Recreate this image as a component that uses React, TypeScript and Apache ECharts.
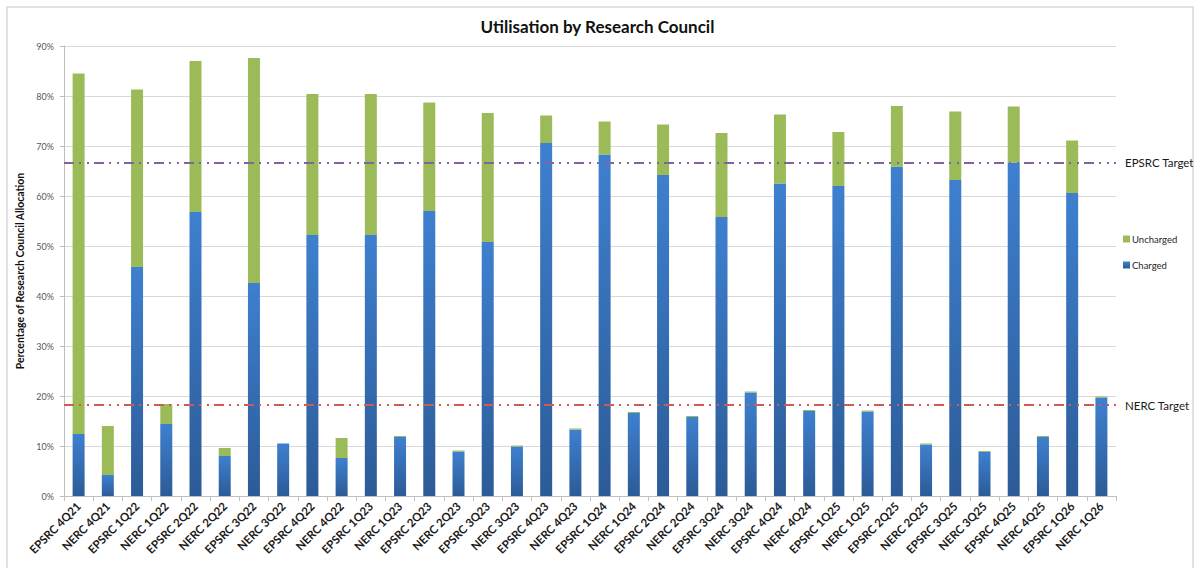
import React, { useEffect, useRef } from "react";
import * as echarts from "echarts";

const categories = [
  "EPSRC 4Q21", "NERC 4Q21", "EPSRC 1Q22", "NERC 1Q22", "EPSRC 2Q22", "NERC 2Q22",
  "EPSRC 3Q22", "NERC 3Q22", "EPSRC 4Q22", "NERC 4Q22", "EPSRC 1Q23", "NERC 1Q23",
  "EPSRC 2Q23", "NERC 2Q23", "EPSRC 3Q23", "NERC 3Q23", "EPSRC 4Q23", "NERC 4Q23",
  "EPSRC 1Q24", "NERC 1Q24", "EPSRC 2Q24", "NERC 2Q24", "EPSRC 3Q24", "NERC 3Q24",
  "EPSRC 4Q24", "NERC 4Q24", "EPSRC 1Q25", "NERC 1Q25", "EPSRC 2Q25", "NERC 2Q25",
  "EPSRC 3Q25", "NERC 3Q25", "EPSRC 4Q25", "NERC 4Q25", "EPSRC 1Q26", "NERC 1Q26",
];

const charged = [
  12.4, 4.2, 45.8, 14.4, 56.8, 8.0, 42.6, 10.5, 52.2, 7.6, 52.2, 11.8,
  57.0, 8.9, 50.8, 9.9, 70.6, 13.3, 68.3, 16.6, 64.2, 15.8, 55.8, 20.7,
  62.5, 17.0, 62.0, 16.9, 65.9, 10.3, 63.2, 8.8, 66.7, 11.8, 60.6, 19.7,
];

const uncharged = [
  72.1, 9.8, 35.5, 4.0, 30.2, 1.6, 45.0, 0.0, 28.2, 4.0, 28.2, 0.2,
  21.7, 0.2, 25.8, 0.2, 5.5, 0.2, 6.6, 0.2, 10.1, 0.2, 16.8, 0.2,
  13.8, 0.2, 10.8, 0.2, 12.1, 0.2, 13.7, 0.2, 11.2, 0.2, 10.5, 0.2,
];

const epsrcTarget = 66.7;
const nercTarget = 18.2;

const yTicks = { min: 0, max: 90, interval: 10 };

const FONT = "Lato, 'Open Sans', sans-serif";

export default function App() {
  const ref = useRef<HTMLDivElement>(null);

  useEffect(() => {
    document.body.style.margin = "0";
    if (!ref.current) return;
    const chart = echarts.init(ref.current, undefined, { renderer: "svg" });

    const dashDotDot = [10, 5, 2, 6, 2, 5];

    chart.setOption({
      animation: false,
      backgroundColor: "#ffffff",
      textStyle: { fontFamily: FONT },
      title: {
        text: "Utilisation by Research Council",
        left: "center",
        top: 13,
        textStyle: { fontFamily: FONT, fontSize: 17, fontWeight: "bold", color: "#111111" },
      },
      graphic: [
        {
          type: "rect",
          shape: { x: 7, y: 7, width: 1186, height: 575 },
          style: { fill: "none", stroke: "#d9d9d9", lineWidth: 1.5 },
          silent: true,
        },
      ],
      legend: {
        orient: "vertical",
        left: 1118,
        top: 229,
        itemWidth: 7,
        itemHeight: 7,
        itemGap: 16,
        icon: "rect",
        data: ["Uncharged", "Charged"],
        textStyle: { fontFamily: FONT, fontSize: 9.5, color: "#262626", padding: [0, 0, 0, -3] },
      },
      grid: { left: 64, right: 79, top: 46, bottom: 72, containLabel: false },
      xAxis: {
        type: "category",
        data: categories,
        boundaryGap: true,
        axisLine: { show: true, lineStyle: { color: "#bfbfbf", width: 1 } },
        axisTick: { show: true, alignWithLabel: false, length: 5, lineStyle: { color: "#bfbfbf" } },
        axisLabel: {
          interval: 0,
          rotate: 45,
          fontFamily: FONT,
          fontSize: 11.5,
          fontWeight: "bold",
          color: "#1a1a1a",
          margin: 8,
        },
      },
      yAxis: {
        type: "value",
        min: yTicks.min,
        max: yTicks.max,
        interval: yTicks.interval,
        name: "Percentage of Research Council Allocation",
        nameLocation: "middle",
        nameGap: 37,
        nameTextStyle: { fontFamily: FONT, fontSize: 10.5, fontWeight: "bold", color: "#111111" },
        axisLine: { show: true, lineStyle: { color: "#bfbfbf", width: 1 } },
        axisTick: { show: true, length: 4, lineStyle: { color: "#bfbfbf" } },
        axisLabel: {
          formatter: "{value}%",
          fontFamily: FONT,
          fontSize: 9,
          color: "#595959",
          margin: 10,
        },
        splitLine: { show: true, lineStyle: { color: "#d9d9d9", width: 1 } },
      },
      series: [
        {
          name: "Charged",
          type: "bar",
          stack: "total",
          barWidth: 12,
          data: charged,
          itemStyle: {
            color: new echarts.graphic.LinearGradient(0, 0, 0, 1, [
              { offset: 0, color: "#3E80CF" },
              { offset: 1, color: "#2C5B97" },
            ]),
          },
          markLine: {
            silent: true,
            symbol: "none",
            data: [
              {
                yAxis: epsrcTarget,
                lineStyle: { color: "#8064A2", width: 2, type: dashDotDot },
                label: {
                  show: true,
                  position: "end",
                  formatter: "EPSRC Target",
                  distance: 9,
                  fontFamily: FONT,
                  fontSize: 11.5,
                  color: "#1a1a1a",
                },
              },
              {
                yAxis: nercTarget,
                lineStyle: { color: "#CF5B55", width: 2, type: dashDotDot },
                label: {
                  show: true,
                  position: "end",
                  formatter: "NERC Target",
                  distance: 9,
                  fontFamily: FONT,
                  fontSize: 11.5,
                  color: "#1a1a1a",
                },
              },
            ],
          },
        },
        {
          name: "Uncharged",
          type: "bar",
          stack: "total",
          barWidth: 12,
          data: uncharged,
          itemStyle: { color: "#9BBB59" },
        },
      ],
    });

    return () => chart.dispose();
  }, []);

  return <div ref={ref} style={{ width: 1195, height: 568 }} />;
}
